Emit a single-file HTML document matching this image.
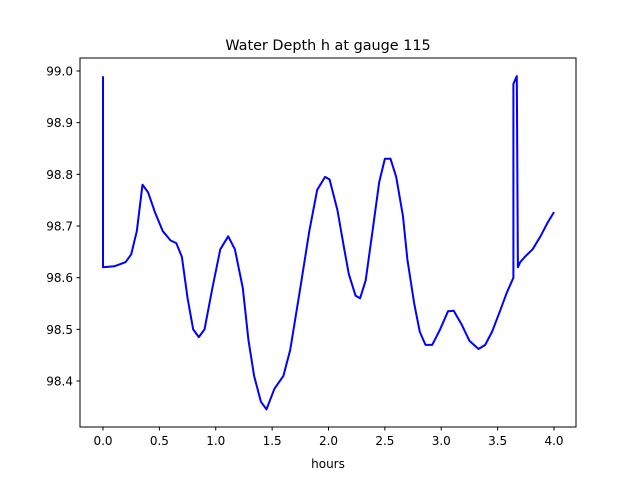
<!DOCTYPE html>
<html><head><meta charset="utf-8"><style>
body{margin:0;background:#fff;font-family:"DejaVu Sans","Liberation Sans",sans-serif;}
svg text{font-family:"DejaVu Sans","Liberation Sans",sans-serif;}
</style></head><body>
<svg id="chart" width="640" height="480" xmlns="http://www.w3.org/2000/svg">
<rect width="640" height="480" fill="#fff"/>
<text x="328" y="50" font-size="14.4" text-anchor="middle">Water Depth h at gauge 115</text>
<g id="plot"></g>
<rect x="80" y="58" width="496" height="369" fill="none" stroke="#000" stroke-width="1"/>
<text x="328" y="468" font-size="12" text-anchor="middle">hours</text>
</svg>
<script>
const times=[0,0,0.1,0.2,0.25,0.3,0.35,0.4,0.46,0.53,0.6,0.65,0.7,0.75,0.8,0.85,0.9,0.97,1.04,1.11,1.17,1.24,1.29,1.34,1.4,1.45,1.52,1.6,1.66,1.75,1.83,1.9,1.97,2.01,2.08,2.14,2.18,2.24,2.28,2.33,2.39,2.45,2.5,2.55,2.6,2.66,2.7,2.76,2.81,2.86,2.92,2.99,3.06,3.11,3.18,3.25,3.33,3.39,3.45,3.52,3.58,3.64,3.64,3.67,3.68,3.7,3.74,3.81,3.88,3.94,4.0];
const depth=[98.99,98.62,98.622,98.63,98.645,98.69,98.78,98.765,98.727,98.69,98.672,98.667,98.64,98.56,98.50,98.485,98.5,98.58,98.655,98.68,98.655,98.58,98.48,98.41,98.36,98.345,98.385,98.41,98.46,98.58,98.69,98.77,98.795,98.79,98.73,98.655,98.607,98.565,98.56,98.595,98.69,98.785,98.83,98.83,98.795,98.72,98.635,98.55,98.495,98.47,98.47,98.5,98.535,98.536,98.51,98.478,98.462,98.47,98.495,98.535,98.57,98.6,98.975,98.99,98.62,98.63,98.64,98.655,98.68,98.705,98.727];
const xTicks=[0,0.5,1,1.5,2,2.5,3,3.5,4];
const xTickLabels=["0.0","0.5","1.0","1.5","2.0","2.5","3.0","3.5","4.0"];
const yTicks=[98.4,98.5,98.6,98.7,98.8,98.9,99.0];
const yTickLabels=["98.4","98.5","98.6","98.7","98.8","98.9","99.0"];
const NS="http://www.w3.org/2000/svg";
const sx=t=>103+t*112.75;
const sy=v=>71+(99-v)*516.7;
const g=document.getElementById('plot');
function mk(tag,attrs){const e=document.createElementNS(NS,tag);for(const k in attrs)e.setAttribute(k,attrs[k]);g.appendChild(e);return e;}
xTicks.forEach((t,i)=>{
 const l=mk('line',{x1:sx(t),x2:sx(t),y1:427,y2:430.5,stroke:'#000'});
 
 
 const tx=mk('text',{x:sx(t),y:445,'font-size':12,'text-anchor':'middle'});
 tx.textContent=xTickLabels[i];
 
 
});
yTicks.forEach((v,i)=>{
 const l=mk('line',{x1:76.5,x2:80,y1:sy(v),y2:sy(v),stroke:'#000'});
 
 
 const tx=mk('text',{x:73,y:sy(v)+4.5,'font-size':12,'text-anchor':'end'});
 tx.textContent=yTickLabels[i];
 
 
});
const p=mk('polyline',{points:times.map((t,i)=>sx(t).toFixed(1)+','+sy(depth[i]).toFixed(1)).join(' '),fill:'none',stroke:'#0000ff','stroke-width':2,'stroke-linejoin':'round'});


</script>
</body></html>
